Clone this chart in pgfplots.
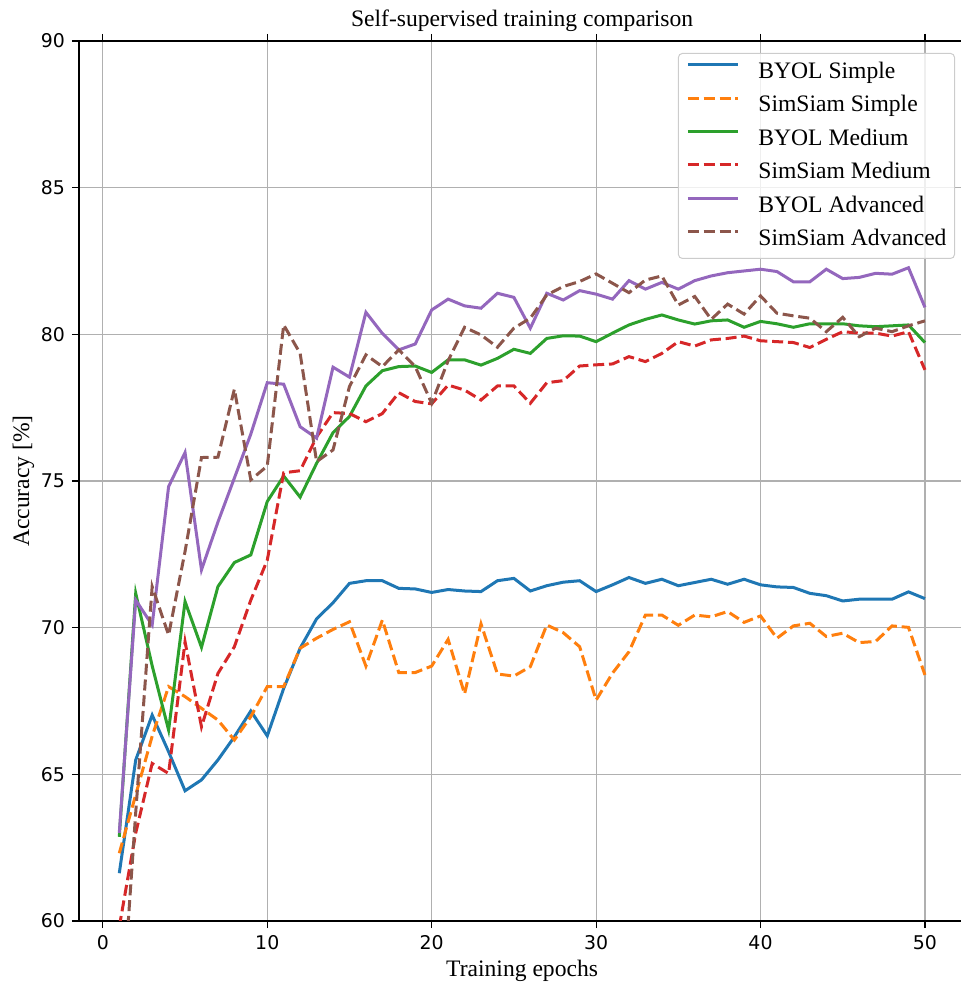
\documentclass[border=0pt]{standalone}
\usepackage{fontspec}
\setmainfont{Liberation Serif}
\newfontfamily\dejavu{DejaVu Sans}
\usepackage{pgfplots}
\pgfplotsset{compat=1.18}
\definecolor{c0}{HTML}{1F77B4}
\definecolor{c1}{HTML}{FF7F0E}
\definecolor{c2}{HTML}{2CA02C}
\definecolor{c3}{HTML}{D62728}
\definecolor{c4}{HTML}{9467BD}
\definecolor{c5}{HTML}{8C564B}
\begin{document}
\begin{tikzpicture}
\begin{axis}[
  scale only axis, width=443.1pt, height=440pt,
  xmin=-1.45, xmax=52.45, ymin=60, ymax=90,
  xtick={0,10,...,50}, ytick={60,65,...,90},
  tick align=outside, major tick length=3.5pt,
  tick style={black, line width=0.6pt},
  axis line style={line width=0.7pt},
  grid=major, major grid style={color=black!31, line width=0.6pt},
  /pgf/number format/assume math mode=true,
  tick label style={font=\dejavu\fontsize{9.45}{11}\selectfont},
  every axis title shift=0pt,
  title={Self-supervised training comparison},
  title style={at={(axis description cs:0.5,1.0159)}, anchor=base, yshift=0pt, font=\fontsize{11.8}{14}\selectfont},
  xlabel={Training epochs},
  xlabel style={at={(axis description cs:0.5,-0.0625)}, anchor=base, font=\fontsize{11.8}{14}\selectfont},
  ylabel={Accuracy [\%]},
  ylabel style={at={(axis description cs:-0.0564,0.5)}, anchor=base, font=\fontsize{11.8}{14}\selectfont},
  legend style={at={(0.9885,0.9864)}, anchor=north east, draw=black!20, line width=0.5pt,
    rounded corners=2pt, fill=white, fill opacity=0.8, text opacity=1,
    font=\fontsize{11.8}{14}\selectfont, inner xsep=4pt, inner ysep=4pt, row sep=5.7pt,
    nodes={inner sep=0pt, text height=8.5pt, text depth=2.5pt},
    /tikz/every odd column/.append style={column sep=9.5pt}},
  legend cell align=left,
  legend image code/.code={\draw[#1] (0pt,3.9pt) -- (25pt,3.9pt);},
  every axis plot/.append style={line width=1.5pt},
]
\coordinate (O) at (rel axis cs:0,0);
\addplot[c0, solid] coordinates {
(1,61.63) (2,65.49) (3,67.02) (4,65.77) (5,64.44) (6,64.81) (7,65.49) (8,66.28) (9,67.16) (10,66.31)
(11,67.93) (12,69.3) (13,70.3) (14,70.85) (15,71.51) (16,71.6) (17,71.6) (18,71.34) (19,71.32) (20,71.2)
(21,71.3) (22,71.25) (23,71.23) (24,71.6) (25,71.68) (26,71.25) (27,71.43) (28,71.55) (29,71.6) (30,71.23)
(31,71.46) (32,71.71) (33,71.51) (34,71.65) (35,71.43) (36,71.54) (37,71.65) (38,71.48) (39,71.65) (40,71.46)
(41,71.39) (42,71.37) (43,71.17) (44,71.09) (45,70.91) (46,70.97) (47,70.97) (48,70.97) (49,71.22) (50,70.99)};
\addlegendentry{BYOL Simple}
\addplot[c1, dash pattern=on 5.5pt off 2.4pt] coordinates {
(1,62.31) (2,64.3) (3,66.3) (4,67.99) (5,67.65) (6,67.25) (7,66.85) (8,66.17) (9,66.97) (10,67.99)
(11,67.99) (12,69.3) (13,69.64) (14,69.94) (15,70.2) (16,68.69) (17,70.26) (18,68.47) (19,68.47) (20,68.69)
(21,69.6) (22,67.74) (23,70.13) (24,68.42) (25,68.35) (26,68.67) (27,70.09) (28,69.83) (29,69.35) (30,67.53)
(31,68.45) (32,69.18) (33,70.43) (34,70.43) (35,70.08) (36,70.43) (37,70.37) (38,70.55) (39,70.18) (40,70.4)
(41,69.64) (42,70.06) (43,70.15) (44,69.7) (45,69.81) (46,69.49) (47,69.53) (48,70.06) (49,70.01) (50,68.39)};
\addlegendentry{SimSiam Simple}
\addplot[c2, solid] coordinates {
(1,62.87) (2,71.17) (3,68.7) (4,66.51) (5,70.89) (6,69.33) (7,71.4) (8,72.22) (9,72.48) (10,74.3)
(11,75.17) (12,74.45) (13,75.6) (14,76.65) (15,77.2) (16,78.24) (17,78.76) (18,78.9) (19,78.92) (20,78.7)
(21,79.13) (22,79.13) (23,78.95) (24,79.18) (25,79.49) (26,79.35) (27,79.86) (28,79.95) (29,79.94) (30,79.75)
(31,80.04) (32,80.32) (33,80.51) (34,80.66) (35,80.49) (36,80.35) (37,80.46) (38,80.49) (39,80.24) (40,80.44)
(41,80.36) (42,80.24) (43,80.36) (44,80.36) (45,80.36) (46,80.29) (47,80.26) (48,80.29) (49,80.32) (50,79.72)};
\addlegendentry{BYOL Medium}
\addplot[c3, dash pattern=on 5.5pt off 2.4pt] coordinates {
(1,59.8) (2,63.0) (3,65.37) (4,65.03) (5,69.52) (6,66.62) (7,68.44) (8,69.35) (9,70.94) (10,72.3)
(11,75.28) (12,75.35) (13,76.5) (14,77.33) (15,77.3) (16,77.02) (17,77.3) (18,78.01) (19,77.71) (20,77.63)
(21,78.27) (22,78.1) (23,77.76) (24,78.24) (25,78.24) (26,77.65) (27,78.35) (28,78.42) (29,78.92) (30,78.96)
(31,78.99) (32,79.24) (33,79.07) (34,79.35) (35,79.75) (36,79.6) (37,79.81) (38,79.86) (39,79.94) (40,79.78)
(41,79.75) (42,79.72) (43,79.55) (44,79.83) (45,80.09) (46,80.04) (47,80.04) (48,79.94) (49,80.09) (50,78.79)};
\addlegendentry{SimSiam Medium}
\addplot[c4, solid] coordinates {
(1,63.0) (2,70.94) (3,70.09) (4,74.81) (5,75.97) (6,71.97) (7,73.6) (8,75.1) (9,76.6) (10,78.35)
(11,78.3) (12,76.85) (13,76.46) (14,78.88) (15,78.54) (16,80.75) (17,80.03) (18,79.47) (19,79.67) (20,80.83)
(21,81.2) (22,80.97) (23,80.89) (24,81.4) (25,81.26) (26,80.21) (27,81.4) (28,81.17) (29,81.49) (30,81.37)
(31,81.2) (32,81.83) (33,81.54) (34,81.77) (35,81.54) (36,81.83) (37,81.99) (38,82.1) (39,82.16) (40,82.22)
(41,82.14) (42,81.79) (43,81.79) (44,82.22) (45,81.9) (46,81.94) (47,82.08) (48,82.05) (49,82.27) (50,80.92)};
\addlegendentry{BYOL Advanced}
\addplot[c5, dash pattern=on 5.5pt off 2.4pt] coordinates {
(1,55.5) (2,63.7) (3,71.4) (4,69.75) (5,72.6) (6,75.8) (7,75.81) (8,78.13) (9,75.04) (10,75.51)
(11,80.32) (12,79.35) (13,75.66) (14,76.06) (15,78.22) (16,79.3) (17,78.9) (18,79.47) (19,78.9) (20,77.65)
(21,79.1) (22,80.24) (23,79.98) (24,79.56) (25,80.21) (26,80.55) (27,81.34) (28,81.63) (29,81.8) (30,82.06)
(31,81.74) (32,81.42) (33,81.85) (34,81.99) (35,81.0) (36,81.29) (37,80.51) (38,81.03) (39,80.69) (40,81.31)
(41,80.72) (42,80.63) (43,80.55) (44,80.09) (45,80.58) (46,79.92) (47,80.21) (48,80.09) (49,80.29) (50,80.46)};
\addlegendentry{SimSiam Advanced}
\end{axis}
\pgfresetboundingbox
\path ([shift={(-39.5pt,-33.5pt)}]O) rectangle ([shift={(440.5pt,460.5pt)}]O);
\end{tikzpicture}
\end{document}
